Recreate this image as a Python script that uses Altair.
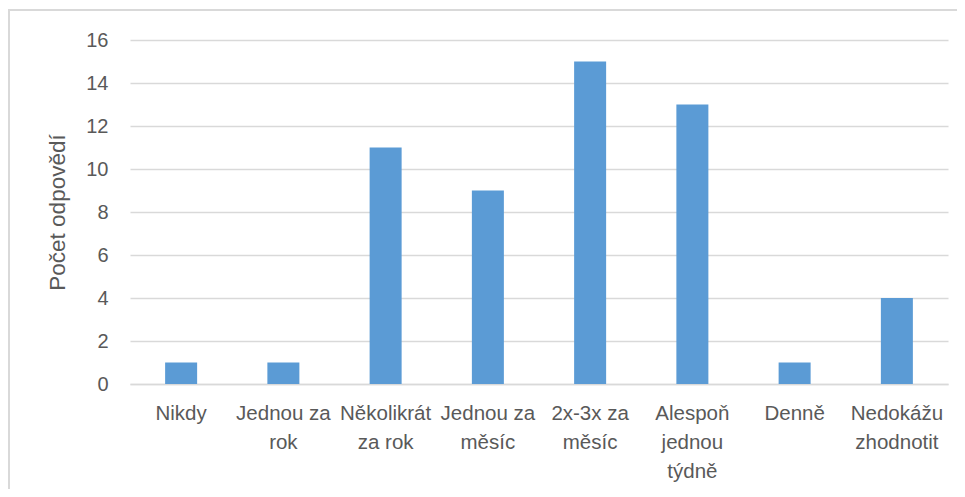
import altair as alt
import pandas as pd

categories = ["Nikdy", "Jednou za|rok", "Několikrát|za rok", "Jednou za|měsíc",
              "2x-3x za|měsíc", "Alespoň|jednou|týdně", "Denně", "Nedokážu|zhodnotit"]
counts = [1, 1, 11, 9, 15, 13, 1, 4]
y_ticks = [0, 2, 4, 6, 8, 10, 12, 14, 16]

df = pd.DataFrame({"kategorie": categories, "pocet": counts})

FONT = "Liberation Sans"
GREY = "#595959"

bars = alt.Chart(df).mark_bar(color="#5B9BD5").encode(
    x=alt.X("kategorie:N", sort=categories,
            scale=alt.Scale(paddingInner=0.687, paddingOuter=0.3435),
            axis=alt.Axis(title=None, labelAngle=0, labelExpr="split(datum.label, '|')",
                          labelFont=FONT, labelFontSize=20.5, labelColor=GREY,
                          labelLineHeight=29, labelPadding=19, ticks=False,
                          domainColor="#D9D9D9", domainWidth=1.5, labelBaseline="top")),
    y=alt.Y("pocet:Q", scale=alt.Scale(domain=[0, 16], nice=False),
            axis=alt.Axis(title="Počet odpovědí", values=y_ticks, ticks=False, domain=False,
                          labelFont=FONT, labelFontSize=20, labelColor=GREY, labelPadding=22,
                          titleFont=FONT, titleFontSize=22.5, titleFontWeight="normal",
                          titleColor=GREY, titlePadding=16,
                          gridColor="#D9D9D9", gridWidth=1.3)),
)

frame = alt.Chart(df).mark_rect(fillOpacity=0, stroke="#D9D9D9", strokeWidth=2, clip=False).encode(
    x=alt.value(-121), x2=alt.value(860), y=alt.value(-30), y2=alt.value(480)
)

chart = alt.layer(frame, bars).properties(
    width=818, height=344,
    autosize=alt.AutoSizeParams(type="none"),
    padding={"left": 122, "top": 32, "right": 9, "bottom": 105},
).configure_view(stroke=None)

chart.save("out.html", embed_options={"renderer": "svg", "actions": False})
